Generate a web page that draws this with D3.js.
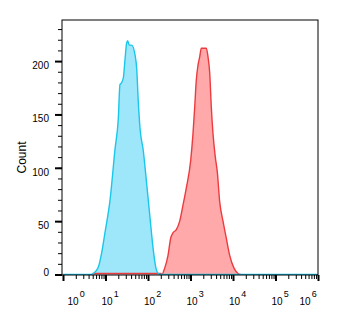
<!DOCTYPE html>
<html>
<head>
<meta charset="utf-8">
<script src="https://cdn.jsdelivr.net/npm/d3@7"></script>
<style>
  body { margin: 0; background: #fff; }
  svg text { font-family: "Liberation Sans", Arial, sans-serif; fill: #000; }
</style>
</head>
<body>
<div id="chart"></div>
<script>
// histogram traces (intensity, count)
var cyanX = [1, 4.5, 5.2, 6.8, 8.1, 9.7, 12.8, 16.7, 20, 21.9, 23.2, 26.2, 28.7, 31.5, 33.3, 36, 41.3, 49.4, 54.2, 59.1, 64.9, 77.5, 93, 111, 133, 152, 175, 200, 1e6];
var cyanCount = [0, 0, 1, 7, 20, 39, 70, 117, 146, 178, 179, 184, 201, 217, 219, 215, 215, 206, 193, 162, 137, 116, 85, 54, 23, 7, 1, 0, 0];

var redX = [5, 200, 213, 247, 296, 342, 387, 463, 557, 666, 796, 1011, 1145, 1256, 1368, 1501, 1645, 1795, 2353, 2581, 2830, 3086, 3383, 3834, 4277, 4867, 5820, 6954, 8356, 10570, 13120, 15000];
var redCount = [1, 1, 0, 6, 18, 34, 39, 42, 50, 65, 81, 107, 132, 157, 182, 196, 204, 212, 212, 204, 189, 157, 132, 110, 96, 68, 50, 34, 18, 6, 1, 0];

var yMajor = [0, 50, 100, 150, 200];
var xExponents = [0, 1, 2, 3, 4, 5, 6];
var yTitle = "Count";

var margin = { top: 20, right: 21, bottom: 41, left: 62 };
var width = 339 - margin.left - margin.right,
    height = 316 - margin.top - margin.bottom;

var svg = d3.select("#chart").append("svg")
    .attr("width", 339)
    .attr("height", 316)
    .append("g")
    .attr("transform", "translate(" + margin.left + "," + margin.top + ")");

var x = d3.scaleLog().domain([1, 1e6]).range([1, width]);
var y = d3.scaleLinear().domain([0, 238.5]).range([height - 0.5, 0]);

svg.append("clipPath").attr("id", "plotclip")
    .append("rect").attr("width", width).attr("height", height);

var area = d3.area()
    .curve(d3.curveMonotoneX)
    .x(function(d) { return x(d[0]); })
    .y0(y(0))
    .y1(function(d) { return y(d[1]); });
var line = d3.line()
    .curve(d3.curveMonotoneX)
    .x(function(d) { return x(d[0]); })
    .y(function(d) { return y(d[1]); });

var cyan = d3.zip(cyanX, cyanCount),
    red = d3.zip(redX, redCount);

var plot = svg.append("g").attr("clip-path", "url(#plotclip)");
plot.append("path").datum(cyan).attr("d", area).attr("fill", "#9ee7fb");
plot.append("path").datum(red).attr("d", area).attr("fill", "#ffa9aa");
plot.append("path").datum(red).attr("d", line)
    .attr("fill", "none").attr("stroke", "#ec3b3f").attr("stroke-width", 1.4);
plot.append("path").datum(cyan).attr("d", line)
    .attr("fill", "none").attr("stroke", "#1ac6ea").attr("stroke-width", 1.4);

// frame
svg.append("rect")
    .attr("x", 0).attr("y", 0)
    .attr("width", width).attr("height", height)
    .attr("fill", "none").attr("stroke", "#000").attr("stroke-width", 1);

// y axis: minor every 10, major every 50
var yMinor = d3.range(0, 231, 10);
svg.append("g")
    .call(d3.axisLeft(y).tickValues(yMinor).tickSize(4).tickFormat(""))
    .call(function(g) { g.select(".domain").remove(); });
var yAxis = svg.append("g")
    .call(d3.axisLeft(y).tickValues(yMajor).tickSize(7).tickPadding(6))
    .call(function(g) { g.select(".domain").remove(); });
yAxis.selectAll("line").attr("stroke-width", 2);
yAxis.selectAll("text")
    .attr("font-size", 10)
    .attr("dy", null)
    .attr("y", function(d) { return Math.min(7.5, height - y(d)); });

svg.append("text")
    .attr("transform", "translate(-36," + (height / 2 + 10) + ") rotate(-90)")
    .attr("text-anchor", "middle")
    .attr("font-size", 12)
    .text(yTitle);

// x axis: decades with 2..9 minors
var xMinor = [];
for (var e = 0; e < 6; e++) {
    for (var m = 2; m < 10; m++) xMinor.push(m * Math.pow(10, e));
}
svg.append("g")
    .attr("transform", "translate(0," + height + ")")
    .call(d3.axisBottom(x).tickValues(xMinor).tickSize(4).tickFormat(""))
    .call(function(g) { g.select(".domain").remove(); });
var xAxis = svg.append("g")
    .attr("transform", "translate(0," + height + ")")
    .call(d3.axisBottom(x).tickValues(xExponents.map(function(k) { return Math.pow(10, k); }))
        .tickSize(6).tickFormat(""))
    .call(function(g) { g.select(".domain").remove(); });
xAxis.selectAll("line").attr("stroke-width", 2);

var xl = svg.append("g").selectAll("text")
    .data(xExponents)
    .enter()
    .append("text")
    .attr("font-size", 10)
    .attr("text-anchor", "middle")
    .attr("transform", function(k) {
        var px = Math.max(11, Math.min(x(Math.pow(10, k)) + 1.5, width - 13));
        return "translate(" + px + "," + (height + 30) + ")";
    });
xl.append("tspan").text("10");
xl.append("tspan")
    .attr("font-size", 9)
    .attr("dx", 1)
    .attr("dy", -8)
    .text(function(k) { return k; });
xl.attr("text-anchor", "start")
    .attr("transform", function(k) {
        var px = Math.max(11, Math.min(x(Math.pow(10, k)) + 1.5, width - 13)) - 5.5;
        return "translate(" + px + "," + (height + 30) + ")";
    });
</script>
</body>
</html>
